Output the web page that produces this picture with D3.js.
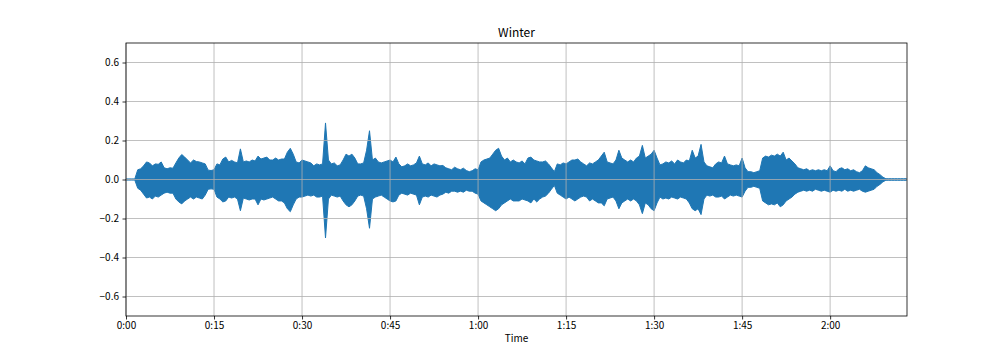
<!DOCTYPE html>
<html>
<head>
<meta charset="utf-8">
<script src="https://cdn.jsdelivr.net/npm/d3@7/dist/d3.min.js"></script>
<style>
  html, body { margin: 0; padding: 0; background: #fff; }
  svg { display: block; }
  text { font-family: "Noto Sans CJK JP", "DejaVu Sans", sans-serif; }
</style>
</head>
<body>
<svg id="chart" width="1008" height="360"></svg>
<script>
// ---- data (half-second resolution envelope) ----
const title = "Winter";
const xLabel = "Time";
const duration = 133.1;   // seconds
const sampleStep = 0.5;   // seconds between envelope samples
const upperEnvelope = [
  0.003,0.003,0.003,0.003,0.05,0.055,0.07,0.09,0.085,0.07,
  0.08,0.078,0.09,0.06,0.055,0.06,0.058,0.085,0.11,0.128,
  0.115,0.1,0.085,0.1,0.092,0.09,0.085,0.08,0.048,0.046,
  0.05,0.08,0.075,0.105,0.115,0.09,0.098,0.09,0.085,0.157,
  0.09,0.095,0.09,0.1,0.095,0.12,0.105,0.11,0.115,0.1,
  0.1,0.11,0.1,0.105,0.105,0.14,0.16,0.13,0.09,0.085,
  0.1,0.095,0.09,0.085,0.07,0.08,0.075,0.08,0.29,0.1,
  0.08,0.085,0.07,0.075,0.1,0.13,0.12,0.13,0.11,0.08,
  0.08,0.085,0.15,0.25,0.1,0.11,0.09,0.085,0.09,0.095,
  0.1,0.09,0.115,0.08,0.065,0.07,0.08,0.07,0.075,0.085,
  0.12,0.08,0.075,0.085,0.07,0.08,0.075,0.07,0.072,0.06,
  0.055,0.05,0.063,0.055,0.05,0.058,0.046,0.04,0.045,0.055,
  0.05,0.09,0.1,0.105,0.11,0.13,0.15,0.16,0.12,0.1,
  0.11,0.09,0.1,0.09,0.085,0.095,0.08,0.11,0.115,0.1,
  0.095,0.09,0.09,0.095,0.08,0.06,0.04,0.08,0.075,0.085,
  0.08,0.09,0.1,0.1,0.105,0.09,0.08,0.07,0.085,0.08,
  0.09,0.1,0.12,0.14,0.09,0.085,0.08,0.1,0.15,0.11,
  0.1,0.09,0.1,0.09,0.11,0.12,0.175,0.11,0.12,0.13,
  0.15,0.11,0.075,0.08,0.09,0.085,0.095,0.08,0.1,0.09,
  0.085,0.1,0.095,0.15,0.11,0.12,0.18,0.09,0.07,0.065,
  0.06,0.08,0.09,0.085,0.12,0.08,0.075,0.07,0.075,0.07,
  0.11,0.06,0.04,0.04,0.035,0.04,0.045,0.11,0.12,0.115,
  0.125,0.12,0.13,0.12,0.14,0.1,0.11,0.095,0.08,0.06,
  0.055,0.05,0.055,0.045,0.05,0.045,0.05,0.045,0.05,0.045,
  0.07,0.045,0.04,0.055,0.06,0.05,0.055,0.045,0.05,0.04,
  0.035,0.045,0.07,0.06,0.055,0.05,0.035,0.025,0.012,0.004,
  0.004,0.004,0.004,0.004,0.004,0.004,0.004
];
const lowerEnvelope = [
  -0.003,-0.003,-0.003,-0.003,-0.045,-0.055,-0.075,-0.095,-0.09,-0.1,
  -0.085,-0.09,-0.08,-0.07,-0.065,-0.07,-0.07,-0.1,-0.115,-0.125,
  -0.11,-0.1,-0.09,-0.1,-0.09,-0.095,-0.1,-0.08,-0.05,-0.048,
  -0.05,-0.09,-0.1,-0.115,-0.11,-0.09,-0.095,-0.09,-0.1,-0.16,
  -0.095,-0.1,-0.105,-0.1,-0.1,-0.13,-0.1,-0.105,-0.1,-0.095,
  -0.09,-0.1,-0.11,-0.11,-0.12,-0.15,-0.165,-0.13,-0.1,-0.09,
  -0.09,-0.085,-0.08,-0.085,-0.08,-0.09,-0.09,-0.085,-0.3,-0.1,
  -0.08,-0.085,-0.09,-0.085,-0.11,-0.13,-0.14,-0.13,-0.11,-0.085,
  -0.08,-0.085,-0.15,-0.25,-0.1,-0.09,-0.085,-0.08,-0.09,-0.1,
  -0.11,-0.115,-0.11,-0.08,-0.07,-0.075,-0.08,-0.07,-0.075,-0.08,
  -0.13,-0.09,-0.085,-0.09,-0.08,-0.085,-0.09,-0.08,-0.075,-0.065,
  -0.07,-0.06,-0.06,-0.065,-0.06,-0.065,-0.055,-0.06,-0.06,-0.07,
  -0.075,-0.11,-0.12,-0.13,-0.14,-0.15,-0.16,-0.15,-0.13,-0.12,
  -0.11,-0.1,-0.11,-0.11,-0.11,-0.1,-0.105,-0.11,-0.12,-0.1,
  -0.115,-0.1,-0.09,-0.085,-0.07,-0.05,-0.03,-0.07,-0.08,-0.09,
  -0.1,-0.09,-0.1,-0.11,-0.1,-0.09,-0.085,-0.09,-0.11,-0.1,
  -0.11,-0.12,-0.12,-0.135,-0.1,-0.095,-0.09,-0.11,-0.15,-0.12,
  -0.11,-0.1,-0.11,-0.1,-0.11,-0.13,-0.175,-0.12,-0.13,-0.15,
  -0.16,-0.12,-0.09,-0.1,-0.095,-0.1,-0.09,-0.095,-0.1,-0.09,
  -0.095,-0.1,-0.12,-0.15,-0.16,-0.15,-0.18,-0.1,-0.08,-0.085,
  -0.08,-0.09,-0.09,-0.085,-0.1,-0.09,-0.08,-0.085,-0.08,-0.085,
  -0.09,-0.06,-0.04,-0.04,-0.035,-0.04,-0.045,-0.11,-0.12,-0.13,
  -0.125,-0.13,-0.12,-0.14,-0.13,-0.11,-0.1,-0.09,-0.075,-0.065,
  -0.06,-0.055,-0.06,-0.055,-0.06,-0.05,-0.055,-0.06,-0.055,-0.06,
  -0.065,-0.055,-0.06,-0.055,-0.06,-0.05,-0.06,-0.055,-0.06,-0.055,
  -0.05,-0.06,-0.065,-0.06,-0.055,-0.05,-0.035,-0.025,-0.012,-0.004,
  -0.004,-0.004,-0.004,-0.004,-0.004,-0.004,-0.004
];
const xTickValues = [0, 15, 30, 45, 60, 75, 90, 105, 120];
const xTickLabels = ["0:00","0:15","0:30","0:45","1:00","1:15","1:30","1:45","2:00"];
const yTickValues = [-0.6, -0.4, -0.2, 0.0, 0.2, 0.4, 0.6];
const yTickLabels = ["\u22120.6","\u22120.4","\u22120.2","0.0","0.2","0.4","0.6"];

// ---- layout ----
const svg = d3.select("#chart");
const margin = {left: 126, right: 101, top: 43, bottom: 44};
const W = 1008, H = 360;
const x = d3.scaleLinear().domain([0, duration]).range([margin.left, W - margin.right]);
const y = d3.scaleLinear().domain([-0.7, 0.7]).range([H - margin.bottom, margin.top]);
const color = "#1f77b4";

const pts = upperEnvelope.map((u, i) => ({t: Math.min(i * sampleStep, duration), u: u, l: lowerEnvelope[i]}));

// waveform envelope
const area = d3.area().x(d => x(d.t)).y0(d => y(d.l)).y1(d => y(d.u));
svg.append("path").datum(pts).attr("d", area)
  .attr("fill", color).attr("stroke", color).attr("stroke-width", 1).attr("stroke-linejoin", "miter");

// grid
const grid = svg.append("g");
grid.selectAll("line.vx").data(xTickValues).join("line")
  .attr("x1", d => x(d)).attr("x2", d => x(d))
  .attr("y1", margin.top).attr("y2", H - margin.bottom)
  .attr("stroke", "#b0b0b0").attr("stroke-width", 0.8);
grid.selectAll("line.hy").data(yTickValues).join("line")
  .attr("y1", d => y(d)).attr("y2", d => y(d))
  .attr("x1", margin.left).attr("x2", W - margin.right)
  .attr("stroke", "#b0b0b0").attr("stroke-width", 0.8);

// axes
const xAxis = d3.axisBottom(x).tickValues(xTickValues).tickFormat((d, i) => xTickLabels[i]).tickSize(3.5).tickPadding(2);
const yAxis = d3.axisLeft(y).tickValues(yTickValues).tickFormat((d, i) => yTickLabels[i]).tickSize(3.5).tickPadding(3.5);
const gx = svg.append("g").attr("transform", `translate(0,${H - margin.bottom})`).call(xAxis);
const gy = svg.append("g").attr("transform", `translate(${margin.left},0)`).call(yAxis);
[gx, gy].forEach(g => {
  g.select(".domain").remove();
  g.selectAll(".tick line").attr("stroke", "#000").attr("stroke-width", 0.8);
  g.selectAll(".tick text").attr("fill", "#000").style("font-size", "10px")
    .style("font-family", '"Noto Sans CJK JP", "DejaVu Sans", sans-serif');
});

// frame
svg.append("rect").attr("x", margin.left).attr("y", margin.top)
  .attr("width", W - margin.right - margin.left).attr("height", H - margin.bottom - margin.top)
  .attr("fill", "none").attr("stroke", "#000").attr("stroke-width", 0.8);

// title and axis label
svg.append("text").attr("x", (margin.left + W - margin.right) / 2).attr("y", 37)
  .attr("text-anchor", "middle").style("font-size", "12px").text(title);
svg.append("text").attr("x", (margin.left + W - margin.right) / 2).attr("y", 342)
  .attr("text-anchor", "middle").style("font-size", "10px").text(xLabel);
</script>
</body>
</html>
